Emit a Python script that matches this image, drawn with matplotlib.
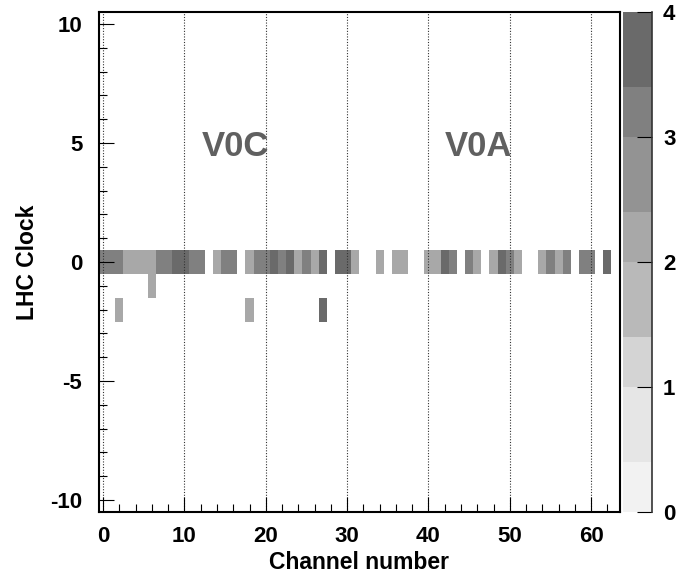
import numpy as np
import matplotlib
matplotlib.use('Agg')
import matplotlib.pyplot as plt
from matplotlib.colors import ListedColormap, BoundaryNorm
from matplotlib.ticker import MultipleLocator

plt.rcParams['font.family'] = ['Liberation Sans', 'DejaVu Sans']
plt.rcParams['font.weight'] = 'bold'
plt.rcParams['axes.labelweight'] = 'bold'
plt.rcParams['axes.unicode_minus'] = False

# channels 0..63, LHC clock -10..10
n_channels = 64
clock = np.arange(-10, 11)

# entries at LHC clock 0, one per channel
clock0_hits = [3, 3, 3, 2, 2, 2, 2, 3, 3, 4,
               4, 3, 3, 0, 2, 3, 3, 0, 2, 3,
               3, 4, 3, 4, 2, 3, 2, 4, 0, 4,
               4, 2, 0, 0, 2, 0, 2, 2, 0, 0,
               2, 2, 4, 3, 0, 3, 2, 0, 2, 4,
               3, 2, 0, 0, 2, 3, 2, 3, 0, 3,
               3, 0, 4, 0]
# the few entries off time
clockm1_channels = [6]
clockm1_hits = [2]
clockm2_channels = [2, 18, 27]
clockm2_hits = [2, 2, 4]

# palette (contour levels as in the picture)
levels = [0, 0.4, 1, 1.4, 2, 2.4, 3, 3.4, 4]
grays = ['#f2f2f2', '#e6e6e6', '#d4d4d4', '#b9b9b9',
         '#a8a8a8', '#939393', '#808080', '#6a6a6a']

H = np.zeros((len(clock), n_channels))
H[np.where(clock == 0)[0][0], :] = clock0_hits
H[np.where(clock == -1)[0][0], clockm1_channels] = clockm1_hits
H[np.where(clock == -2)[0][0], clockm2_channels] = clockm2_hits
H = np.ma.masked_equal(H, 0)

xedges = np.arange(n_channels + 1) - 0.5
yedges = np.append(clock - 0.5, clock[-1] + 0.5)

cmap = ListedColormap(grays)
norm = BoundaryNorm(levels, cmap.N)

fig = plt.figure(figsize=(6.94, 5.86), dpi=100)
ax = fig.add_axes([0.1427, 0.1263, 0.7501, 0.8532])
cax = fig.add_axes([0.8977, 0.1263, 0.0418, 0.8532])

mesh = ax.pcolormesh(xedges, yedges, H, cmap=cmap, norm=norm)

ax.set_xlim(-0.5, 63.5)
ax.set_ylim(-10.5, 10.5)
ax.set_axisbelow(False)
ax.xaxis.set_major_locator(MultipleLocator(10))
ax.xaxis.set_minor_locator(MultipleLocator(2))
ax.yaxis.set_major_locator(MultipleLocator(5))
ax.yaxis.set_minor_locator(MultipleLocator(1))
ax.tick_params(which='both', direction='in', top=False, right=False,
               width=0.8, labelsize=16)
ax.tick_params(which='major', length=11)
ax.tick_params(which='minor', length=5.5)
ax.tick_params(axis='x', pad=10)
ax.tick_params(axis='y', pad=12)
for lbl in ax.get_xticklabels() + ax.get_yticklabels():
    lbl.set_fontweight('bold')
ax.grid(axis='x', which='major', color='#333333', linestyle=(0, (1, 1.5)), linewidth=0.8)
for s in ax.spines.values():
    s.set_linewidth(1.5)

ax.set_xlabel('Channel number', fontsize=16.5, labelpad=3)
ax.set_ylabel('LHC Clock', fontsize=16.5, labelpad=8)

ax.text(16.3, 4.85, 'V0C', fontsize=25, color='#606060', ha='center', va='center')
ax.text(46.2, 4.85, 'V0A', fontsize=25, color='#606060', ha='center', va='center')

cb = fig.colorbar(mesh, cax=cax, ticks=[0, 1, 2, 3, 4], spacing='proportional')
cb.outline.set_visible(False)
cax.axvline(1, color='#333333', linewidth=1.2, clip_on=False)
cax.tick_params(direction='in', length=11, width=0.8, labelsize=16, pad=8)
cax.minorticks_off()
for lbl in cax.get_yticklabels():
    lbl.set_fontweight('bold')

fig.savefig('out.png', dpi=100)
